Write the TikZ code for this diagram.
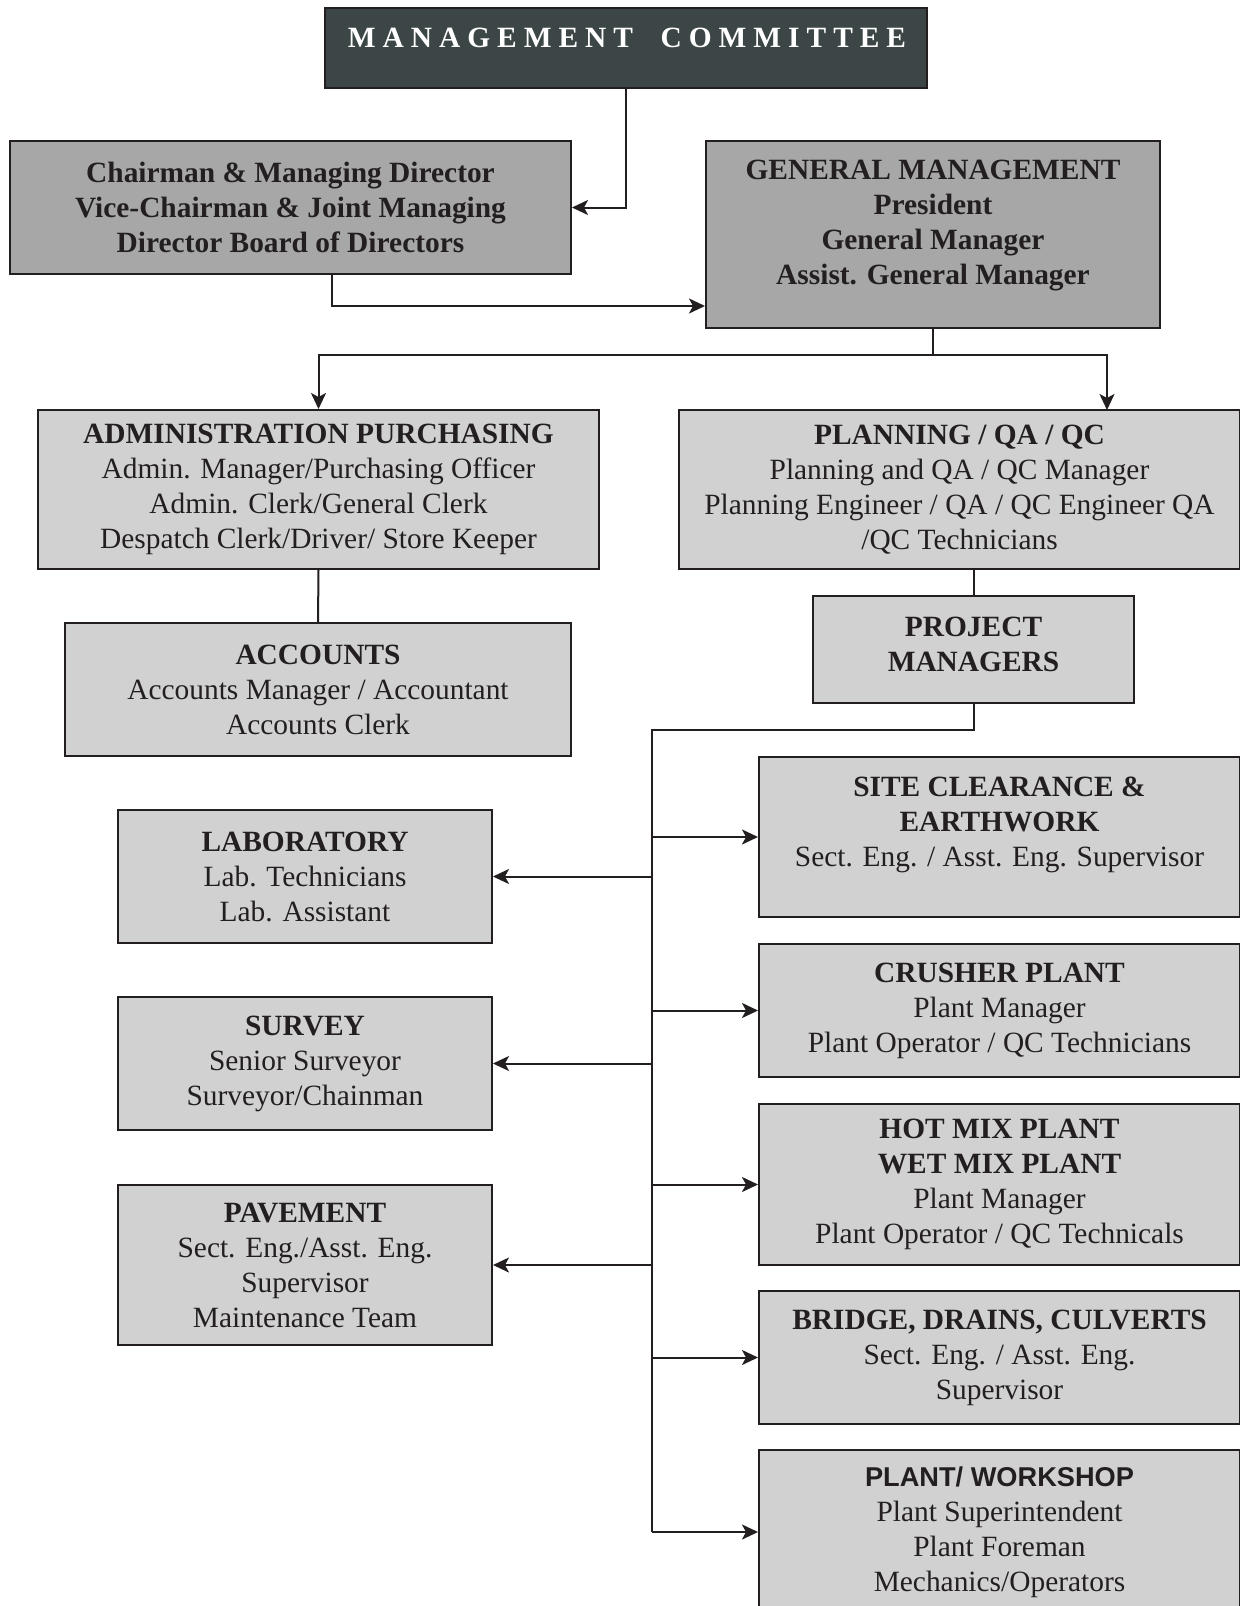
\documentclass[tikz,border=0pt]{standalone}
\usepackage{fontspec}
\setmainfont{Liberation Serif}
\newfontfamily\hsans{Liberation Sans}
\usetikzlibrary{arrows.meta}
\definecolor{mcfill}{HTML}{3D4646}
\definecolor{darkfill}{HTML}{A7A7A7}
\definecolor{lightfill}{HTML}{D1D1D1}
\definecolor{ink}{HTML}{231F20}
\def\spl#1{\ifx#1\relax\unkern\else#1\kern3.5pt\expandafter\spl\fi}
\begin{document}
\begin{tikzpicture}[x=0.5pt,y=-0.5pt,
  box/.style={draw=ink, line width=1pt, inner sep=0pt, rectangle, align=center, text=ink,
              font=\fontsize{14.7}{17.5}\selectfont},
  dbox/.style={box, fill=darkfill},
  lbox/.style={box, fill=lightfill},
  txt/.style={align=center, inner sep=0pt, text=ink, font=\fontsize{14.7}{17.5}\selectfont},
  conn/.style={draw=ink, line width=1pt},
  arr/.style={conn, -{Stealth[length=8pt,width=7.5pt,inset=2pt]}}
]
\useasboundingbox[fill=white] (0,0) rectangle (1240,1606);

% top level
\node[box, fill=mcfill, minimum width=301pt, minimum height=40pt] (mc) at (626,48) {};
\node[txt, text=white, font=\fontsize{14.7}{17.5}\selectfont\bfseries] (mct) at (627,38)
  {\spl MANAGEMENT\relax\hspace{13.8pt}\spl COMMITTEE\relax};

\node[dbox, minimum width=280.5pt, minimum height=66.5pt, font=\fontsize{14.7}{17.5}\selectfont\bfseries] (chair) at (290.5,207.5)
  {Chairman \& Managing Director\\Vice-Chairman \& Joint Managing\\Director Board of Directors};

\node[dbox, minimum width=227pt, minimum height=93.5pt] (gm) at (933,234.5) {};
\node[txt, font=\fontsize{14.7}{17.5}\selectfont\bfseries] (gmt) at (933,226)
  {GENERAL MANAGEMENT\\President\\General Manager\\Assist. General Manager};

% second level
\node[lbox, minimum width=280.5pt, minimum height=79.5pt] (admin) at (318.5,489.5)
  {\textbf{ADMINISTRATION PURCHASING}\\Admin. Manager/Purchasing Officer\\Admin. Clerk/General Clerk\\Despatch Clerk/Driver/ Store Keeper};
\node[lbox, minimum width=280.5pt, minimum height=79.5pt] (plan) at (959.5,489.5)
  {\textbf{PLANNING / QA / QC}\\Planning and QA / QC Manager\\Planning Engineer / QA / QC Engineer QA\\/QC Technicians};

\node[lbox, minimum width=253pt, minimum height=66.5pt] (acc) at (318,689.5)
  {\textbf{ACCOUNTS}\\Accounts Manager / Accountant\\Accounts Clerk};

\node[lbox, minimum width=160.5pt, minimum height=53.5pt] (pm) at (973.5,649.5) {};
\node[txt, font=\fontsize{14.7}{17.5}\selectfont\bfseries] (pmt) at (973.5,644.5) {PROJECT\\MANAGERS};

% right column
\node[lbox, minimum width=240.5pt, minimum height=80pt] (site) at (999.5,837) {};
\node[txt] (sitet) at (999.5,824.5)
  {\textbf{SITE CLEARANCE \&}\\\textbf{EARTHWORK}\\Sect. Eng. / Asst. Eng. Supervisor};
\node[lbox, minimum width=240.5pt, minimum height=66.5pt] (crush) at (999.5,1010.5)
  {\textbf{CRUSHER PLANT}\\Plant Manager\\Plant Operator / QC Technicians};
\node[lbox, minimum width=240.5pt, minimum height=80.5pt] (hot) at (999.5,1184.5)
  {\textbf{HOT MIX PLANT}\\\textbf{WET MIX PLANT}\\Plant Manager\\Plant Operator / QC Technicals};
\node[lbox, minimum width=240.5pt, minimum height=66.5pt] (bridge) at (999.5,1357.5)
  {\textbf{BRIDGE, DRAINS, CULVERTS}\\Sect. Eng. / Asst. Eng.\\Supervisor};
\node[lbox, minimum width=240.5pt, minimum height=82pt] (pw) at (999.5,1532)
  {{\hsans\bfseries\fontsize{13.6}{17.5}\selectfont PLANT/ WORKSHOP}\\Plant Superintendent\\Plant Foreman\\Mechanics/Operators};

% left column
\node[lbox, minimum width=187pt, minimum height=66.5pt] (lab) at (305,876.5)
  {\textbf{LABORATORY}\\Lab. Technicians\\Lab. Assistant};
\node[lbox, minimum width=187pt, minimum height=66.5pt] (survey) at (305,1063.5)
  {\textbf{SURVEY}\\Senior Surveyor\\Surveyor/Chainman};
\node[lbox, minimum width=187pt, minimum height=80pt] (pave) at (305,1265)
  {\textbf{PAVEMENT}\\Sect. Eng./Asst. Eng.\\Supervisor\\Maintenance Team};

% helper coordinates
\coordinate (cb) at (332,306);
\coordinate (bus) at (933,355);
\coordinate (pq) at (1107,410);
\coordinate (sp1) at (652,730);
\coordinate (sp2) at (652,1532);

% connectors
\draw[arr] (mc.south) |- (chair.east);
\draw[arr] (chair.south -| cb) |- (cb) -- (cb -| gm.west);
\draw[conn] (gm.south) -- (bus);
\draw[arr] (bus) -| (admin.north);
\draw[arr] (bus) -| (pq);
\draw[conn] (admin.south) -- (acc.north);
\draw[conn] (pm.north |- plan.south) -- (pm.north);
\draw[conn] (pm.south) |- (sp1) -- (sp2);

\draw[arr] (sp1 |- site.west) -- (site.west);
\draw[arr] (sp1 |- crush.west) -- (crush.west);
\draw[arr] (sp1 |- hot.west) -- (hot.west);
\draw[arr] (sp1 |- bridge.west) -- (bridge.west);
\draw[arr] (sp2) -- (pw.west);
\draw[arr] (sp1 |- lab.east) -- (lab.east);
\draw[arr] (sp1 |- survey.east) -- (survey.east);
\draw[arr] (sp1 |- pave.east) -- (pave.east);
\end{tikzpicture}
\end{document}
